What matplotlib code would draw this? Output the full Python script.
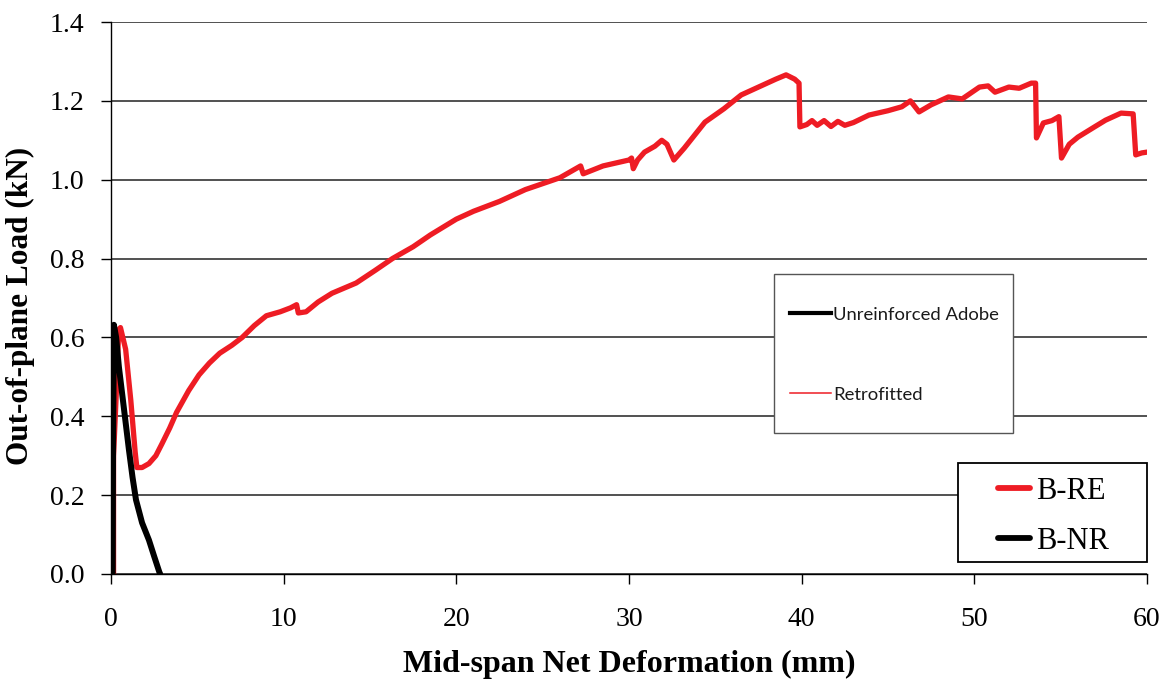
import matplotlib
matplotlib.use("Agg")
import matplotlib.pyplot as plt
from matplotlib.lines import Line2D
from matplotlib.patches import Rectangle

# Retrofitted specimen (B-RE)
re_x = [0.15, 0.15, 0.3, 0.45, 0.55, 0.85, 1.15, 1.4, 1.5, 1.8, 2.2, 2.6, 2.95, 3.4, 3.8,
        4.5, 5.1, 5.7, 6.3, 7.0, 7.6, 8.3, 9.0, 9.8, 10.4, 10.75, 10.85, 11.3, 12.0, 12.8,
        14.2, 15.3, 16.3, 17.5, 18.5, 20.0, 21.0, 22.5, 24.0, 25.0, 26.0, 27.2, 27.35, 28.5,
        29.5, 30.0, 30.15, 30.25, 30.5, 30.9, 31.5, 31.9, 32.2, 32.6, 33.2, 34.4, 35.5, 36.5,
        37.5, 38.5, 39.1, 39.6, 39.85, 39.9, 40.3, 40.6, 40.9, 41.3, 41.7, 42.1, 42.5, 43.0,
        43.9, 45.0, 45.8, 46.3, 46.8, 47.5, 48.5, 49.3, 50.3, 50.8, 51.2, 52.0, 52.6, 53.3,
        53.55, 53.6, 54.0, 54.5, 54.9, 55.05, 55.5, 56.0, 57.0, 57.6, 58.5, 59.2, 59.35,
        59.7, 60.0]
re_y = [0.0, 0.30, 0.45, 0.62, 0.625, 0.57, 0.44, 0.31, 0.27, 0.27, 0.28, 0.30, 0.33, 0.37,
        0.41, 0.465, 0.505, 0.535, 0.56, 0.58, 0.60, 0.63, 0.655, 0.665, 0.675, 0.683, 0.662,
        0.665, 0.69, 0.712, 0.738, 0.77, 0.80, 0.83, 0.86, 0.90, 0.92, 0.945, 0.975, 0.99,
        1.005, 1.035, 1.015, 1.035, 1.045, 1.05, 1.055, 1.028, 1.05, 1.07, 1.085, 1.10, 1.09,
        1.05, 1.08, 1.146, 1.18, 1.215, 1.235, 1.255, 1.266, 1.255, 1.245, 1.134, 1.14, 1.15,
        1.138, 1.15, 1.135, 1.148, 1.138, 1.145, 1.164, 1.175, 1.185, 1.20, 1.172, 1.19,
        1.21, 1.205, 1.235, 1.238, 1.222, 1.235, 1.232, 1.245, 1.245, 1.106, 1.144, 1.15,
        1.16, 1.055, 1.09, 1.108, 1.135, 1.151, 1.169, 1.167, 1.063, 1.068, 1.07]

# Unreinforced specimen (B-NR)
nr_x = [0.1, 0.12, 0.17, 0.3, 0.46, 0.75, 1.04, 1.25, 1.45, 1.8, 2.2, 2.5, 2.8, 2.85]
nr_y = [0.0, 0.3, 0.632, 0.6, 0.525, 0.42, 0.315, 0.245, 0.188, 0.13, 0.086, 0.045, 0.005, 0.0]

x_ticks = [0, 10, 20, 30, 40, 50, 60]
y_ticks = [0.0, 0.2, 0.4, 0.6, 0.8, 1.0, 1.2, 1.4]

series_labels = ["B-RE", "B-NR"]
note_labels = ["Unreinforced Adobe", "Retrofitted"]

RED = "#ee1c24"
SERIF = ["Liberation Serif", "DejaVu Serif"]
SANS = ["Lato", "DejaVu Sans"]

W, H = 1173, 686
fig = plt.figure(figsize=(W / 100, H / 100), dpi=100)
ax = fig.add_axes([0.0946, 0.1633, 0.8832, 0.8046])

ax.plot(re_x, re_y, color=RED, lw=3.8, solid_capstyle="round", zorder=3)
ax.plot(nr_x, nr_y, color="black", lw=4.3, solid_capstyle="round", zorder=4)

ax.set_xlim(0, 60)
ax.set_ylim(0, 1.4)
ax.set_xticks(x_ticks)
ax.set_yticks(y_ticks)
ax.set_yticklabels([f"{v:.1f}" for v in y_ticks])
ax.grid(axis="y", color="#333333", lw=1.2)
ax.set_axisbelow(True)
for s in ["top", "right"]:
    ax.spines[s].set_visible(False)
for s in ["left", "bottom"]:
    ax.spines[s].set_color("black")
    ax.spines[s].set_linewidth(1.0)
ax.tick_params(direction="out", length=7, width=1.0, labelsize=20)
ax.tick_params(axis="x", pad=17)
ax.tick_params(axis="y", pad=12)
for lab in ax.get_xticklabels() + ax.get_yticklabels():
    lab.set_fontfamily(SERIF)

ax.set_xlabel("Mid-span Net Deformation (mm)", fontsize=23, fontweight="bold",
              family=SERIF, labelpad=13)
ax.set_ylabel("Out-of-plane Load (kN)", fontsize=22.5, fontweight="bold",
              family=SERIF)
ax.yaxis.set_label_coords(-0.073, 0.485)


def fx(px):
    return px / W


def fy(py):
    return 1 - py / H


# Inner legend box (B-RE / B-NR)
fig.patches.append(Rectangle((fx(958), fy(562)), fx(1147) - fx(958), fy(463) - fy(562),
                             transform=fig.transFigure, facecolor="white",
                             edgecolor="black", lw=1.3, zorder=5))
for lbl, col, py in zip(series_labels, [RED, "black"], [488, 538]):
    fig.add_artist(Line2D([fx(998), fx(1030)], [fy(py), fy(py)], color=col, lw=4.2,
                          solid_capstyle="round", transform=fig.transFigure, zorder=6))
    fig.text(fx(1036), fy(py), lbl, family=SERIF, fontsize=22, ha="left", va="center_baseline",
             zorder=6)

# Outer note box (Unreinforced Adobe / Retrofitted)
fig.patches.append(Rectangle((fx(774), fy(433)), fx(1013) - fx(774), fy(274) - fy(433),
                             transform=fig.transFigure, facecolor="white",
                             edgecolor="#555555", lw=1.0, zorder=5))
for lbl, col, lw, py in zip(note_labels, ["black", RED], [3.0, 1.1], [313, 393]):
    fig.add_artist(Line2D([fx(790), fx(831)], [fy(py), fy(py)], color=col, lw=lw,
                          transform=fig.transFigure, zorder=6))
    fig.text(fx(833), fy(py), lbl, family=SANS, fontsize=13.3, color="#1a1a1a",
             ha="left", va="center_baseline", zorder=6)

fig.savefig("out.png", dpi=100)
